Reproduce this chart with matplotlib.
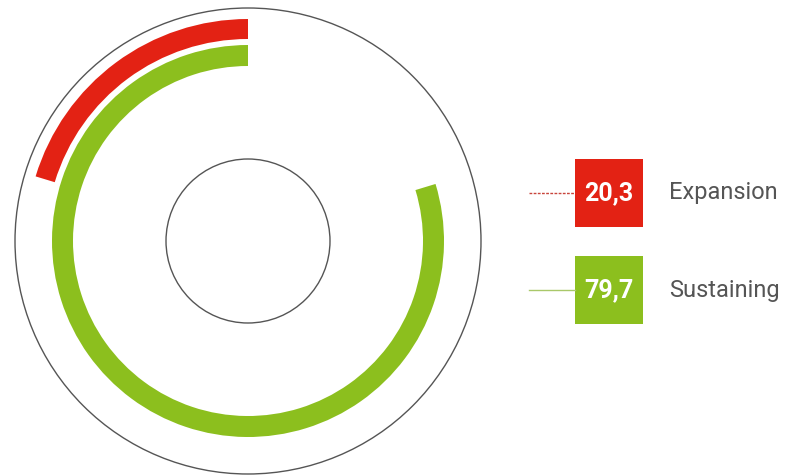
import matplotlib
matplotlib.use('Agg')
import matplotlib.pyplot as plt
from matplotlib.patches import Wedge, Circle, Rectangle

labels = ['Expansion', 'Sustaining']
values = [20.3, 79.7]
value_text = ['20,3', '79,7']
colors = ['#E32214', '#8CBF1E']
line_colors = ['#C8453C', '#A9C86A']
line_styles = [(0, (2, 1)), '-']

W, H = 786, 475
fig = plt.figure(figsize=(W / 100, H / 100), dpi=100)
ax = fig.add_axes([0, 0, 1, 1])
ax.set_xlim(0, W)
ax.set_ylim(0, H)
ax.set_aspect('equal')
ax.axis('off')

cx, cy = 248, H - 241

# outer and inner guide circles
ax.add_patch(Circle((cx, cy), 233, fill=False, ec='#555555', lw=1.0))
ax.add_patch(Circle((cx, cy), 82, fill=False, ec='#555555', lw=1.0))

# rings: outer red, inner green, both start at 12 o'clock going counter-clockwise
ring_r = [222, 196]
ring_w = [20, 21]
for v, col, r, w in zip(values, colors, ring_r, ring_w):
    ang = v / 100 * 360
    ax.add_patch(Wedge((cx, cy), r, 90, 90 + ang, width=w, fc=col, ec='none'))

# legend boxes
font = ['Roboto', 'DejaVu Sans']
box_y = [193, 290]
for lab, vt, col, lc, ls, yy in zip(labels, value_text, colors, line_colors, line_styles, box_y):
    y = H - yy
    ax.add_patch(Rectangle((575, y - 34), 68, 68, fc=col, ec='none'))
    ax.plot([529, 575], [y, y], color=lc, lw=1, ls=ls)
    ax.text(609, y, vt, color='white', fontsize=18, fontweight='bold',
            ha='center', va='center', family=font)
    ax.text(669, y, lab, color='#555555', fontsize=17,
            ha='left', va='center', family=font)

fig.savefig('out.png', dpi=100, facecolor='white')
